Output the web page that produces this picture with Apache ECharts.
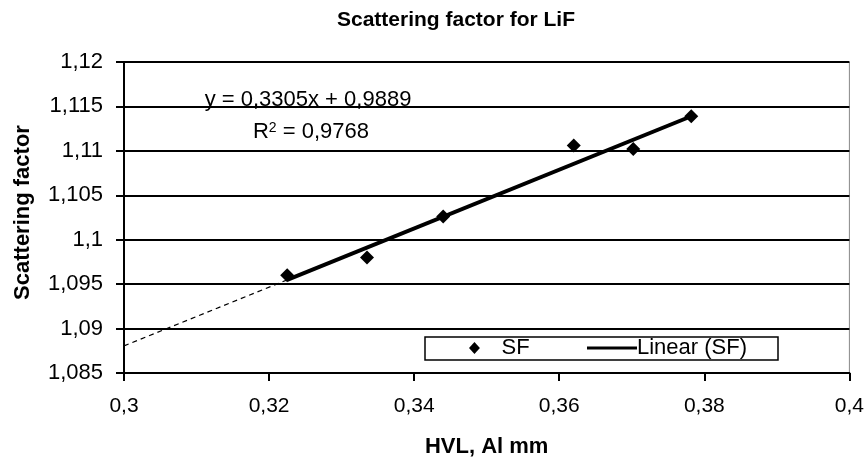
<!DOCTYPE html>
<html>
<head>
<meta charset="utf-8">
<script src="https://cdn.jsdelivr.net/npm/echarts@6/dist/echarts.min.js"></script>
<style>html,body{margin:0;padding:0;background:#fff}#c{width:867px;height:463px}</style>
</head>
<body>
<div id="c"></div>
<script>
// Data
var hvl = [0.3225, 0.3335, 0.3440, 0.3620, 0.3702, 0.3782];
var sf  = [1.0960, 1.0980, 1.1026, 1.1106, 1.1102, 1.1139];
// Trendline coefficients shown on the chart
var slope = 0.3305, intercept = 0.9889;
var r2 = 0.9768;
var xTicks = [0.3, 0.32, 0.34, 0.36, 0.38, 0.4];
var yTicks = [1.085, 1.09, 1.095, 1.1, 1.105, 1.11, 1.115, 1.12];

var xMin = xTicks[0], xMax = xTicks[xTicks.length - 1];
var yMin = yTicks[0], yMax = yTicks[yTicks.length - 1];
var xFirst = Math.min.apply(null, hvl), xLast = Math.max.apply(null, hvl);
function lin(x){ return slope * x + intercept; }
var trendSolid = [[xFirst, lin(xFirst)], [xLast, lin(xLast)]];
var trendDash = [[xMin, lin(xMin)], [xFirst, lin(xFirst)]];
var points = hvl.map(function(x, i){ return [x, sf[i]]; });

function fmt(v, d){ return String(Number(v.toFixed(d))).replace('.', ','); }
var FONT = 'Liberation Sans, Arial, sans-serif';

var chart = echarts.init(document.getElementById('c'), null, {renderer: 'canvas'});
chart.setOption({
  animation: false,
  backgroundColor: '#fff',
  graphic: [{
    type: 'text', x: 456, y: 10, z: 10,
    style: {text: 'Scattering factor for LiF', font: 'bold 21px ' + FONT, fill: '#000', align: 'center', verticalAlign: 'top'}
  }, {
    type: 'text', x: 308, y: 89, z: 10,
    style: {text: 'y = ' + fmt(slope, 4) + 'x + ' + fmt(intercept, 4), font: '22px ' + FONT, fill: '#000', align: 'center', verticalAlign: 'top'}
  }, {
    type: 'text', x: 311, y: 121, z: 10,
    style: {
      text: '{a|R}{s|2}{a| = ' + fmt(r2, 4) + '}', align: 'center', verticalAlign: 'top',
      rich: {
        a: {font: '22px ' + FONT, fill: '#000', verticalAlign: 'bottom'},
        s: {font: '14px ' + FONT, fill: '#000', verticalAlign: 'top'}
      }
    }
  }, {
    type: 'rect', z: 5,
    shape: {x: 425, y: 337, width: 353, height: 23},
    style: {fill: '#fff', stroke: '#000', lineWidth: 1.5}
  }],
  grid: {left: 124, right: 15, top: 62, bottom: 90, show: true, borderColor: '#888', borderWidth: 1},
  legend: [{
    left: 469, top: 337, padding: 0, z: 6,
    textStyle: {fontFamily: FONT, fontSize: 22, color: '#000', padding: [0, 0, 0, 16]},
    data: [{name: 'SF', icon: 'path://M5,0L10,5.5L5,11L0,5.5Z', itemStyle: {color: '#000', opacity: 1}}],
    itemWidth: 12, itemHeight: 12, selectedMode: false
  }, {
    left: 587, top: 337, padding: 0, z: 6,
    textStyle: {fontFamily: FONT, fontSize: 22, color: '#000', padding: [0, 0, 0, -5]},
    data: [{name: 'Linear (SF)', icon: 'path://M0,0L50,0L50,3L0,3Z', itemStyle: {color: '#000'}}],
    itemWidth: 50, itemHeight: 4, selectedMode: false
  }],
  xAxis: {
    type: 'value', min: xMin, max: xMax, interval: 0.02,
    name: 'HVL, Al mm', nameLocation: 'middle', nameGap: 63,
    nameTextStyle: {fontFamily: FONT, fontWeight: 'bold', fontSize: 22, color: '#000'},
    axisLine: {lineStyle: {color: '#000', width: 2}},
    axisTick: {show: true, length: 8, lineStyle: {color: '#000', width: 2}},
    axisLabel: {margin: 23, fontFamily: FONT, fontSize: 21, color: '#000',
      formatter: function(v){ return fmt(v, 2); }},
    splitLine: {show: false}
  },
  yAxis: {
    type: 'value', min: yMin, max: yMax, interval: 0.005,
    name: 'Scattering factor', nameLocation: 'middle', nameGap: 90, nameRotate: 90,
    nameTextStyle: {fontFamily: FONT, fontWeight: 'bold', fontSize: 22, color: '#000', padding: [0, 0, 0, 10]},
    axisLine: {lineStyle: {color: '#000', width: 2}},
    axisTick: {show: true, length: 8, lineStyle: {color: '#000', width: 2}},
    axisLabel: {margin: 21, fontFamily: FONT, fontSize: 22, color: '#000',
      formatter: function(v){ return fmt(v, 3); }},
    splitLine: {show: true, lineStyle: {color: '#000', width: 2}}
  },
  series: [{
    name: 'Linear (SF)', type: 'line', data: trendSolid, symbol: 'none',
    lineStyle: {color: '#000', width: 4}, z: 3
  }, {
    name: 'trendBack', type: 'line', data: trendDash, symbol: 'none',
    lineStyle: {color: '#000', width: 1.2, type: [5, 4]}, z: 3
  }, {
    name: 'SF', type: 'scatter', data: points, symbol: 'diamond', symbolSize: 14,
    itemStyle: {color: '#000', opacity: 1}, z: 4
  }]
});
</script>
</body>
</html>
